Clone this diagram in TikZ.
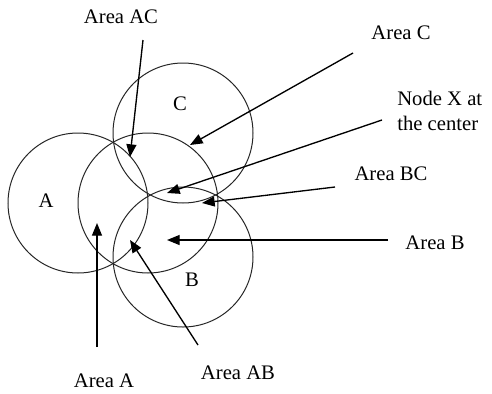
\documentclass[tikz,border=0pt]{standalone}
\usepackage{fontspec}
\setmainfont{Liberation Serif}
\usetikzlibrary{arrows.meta}

\begin{document}
\begin{tikzpicture}[
        x=0.75pt, y=-0.75pt,
        font=\fontsize{15.5}{18.5}\selectfont,
        >={Triangle[length=9.5pt,width=7.5pt]},
        % --- circle style ---
        reach/.style={
            draw=black!85, circle, line width=0.75pt,
            minimum size=105pt, inner sep=0pt
        },
        % --- text styles ---
        lbl/.style={inner sep=0pt, align=left},
        letter/.style={inner sep=0pt},
        % --- arrow style ---
        arr/.style={->, line width=1pt}
    ]
    \useasboundingbox (0,0) rectangle (492,393);

    % --- the four ranges ---
    \node[reach] (reachA) at (78,203) {};
    \node[reach] (reachX) at (148,203) {};
    \node[reach] (reachC) at (183,133) {};
    \node[reach] (reachB) at (183,257) {};

    % --- letters inside ---
    \node[letter] (nameA) at (46,201) {A};
    \node[letter] (nameB) at (192,280) {B};
    \node[letter] (nameC) at (180,104) {C};

    % --- labels ---
    \node[lbl] (areaAC) at (121,17) {Area AC};
    \node[lbl] (areaC)  at (401,33) {Area C};
    \node[lbl, anchor=west] (nodeX) at (397,111) {Node X at\\the center};
    \node[lbl] (areaBC) at (391,174) {Area BC};
    \node[lbl] (areaB)  at (435,243) {Area B};
    \node[lbl] (areaA)  at (104,381) {Area A};
    \node[lbl] (areaAB) at (238,373) {Area AB};

    % --- arrow ends ---
    \coordinate (tailAC) at (143,40);
    \coordinate (tipAC)  at (130,157);
    \coordinate (tailC)  at (353,53);
    \coordinate (tipC)   at (190,145);
    \coordinate (tailX)  at (382,120);
    \coordinate (tipX)   at (167,193);
    \coordinate (tailBC) at (335,187);
    \coordinate (tipBC)  at (202,203);
    \coordinate (tailB)  at (388,240);
    \coordinate (tipB)   at (167,240);
    \coordinate (tailA)  at (97,347);
    \coordinate (tipA)   at (97,223);
    \coordinate (tailAB) at (198,345);
    \coordinate (tipAB)  at (130,240);

    % --- arrows ---
    \draw[arr] (tailAC) -- (tipAC);
    \draw[arr] (tailC)  -- (tipC);
    \draw[arr] (tailX)  -- (tipX);
    \draw[arr] (tailBC) -- (tipBC);
    \draw[arr] (tailB)  -- (tipB);
    \draw[arr] (tailA)  -- (tipA);
    \draw[arr] (tailAB) -- (tipAB);

\end{tikzpicture}
\end{document}
